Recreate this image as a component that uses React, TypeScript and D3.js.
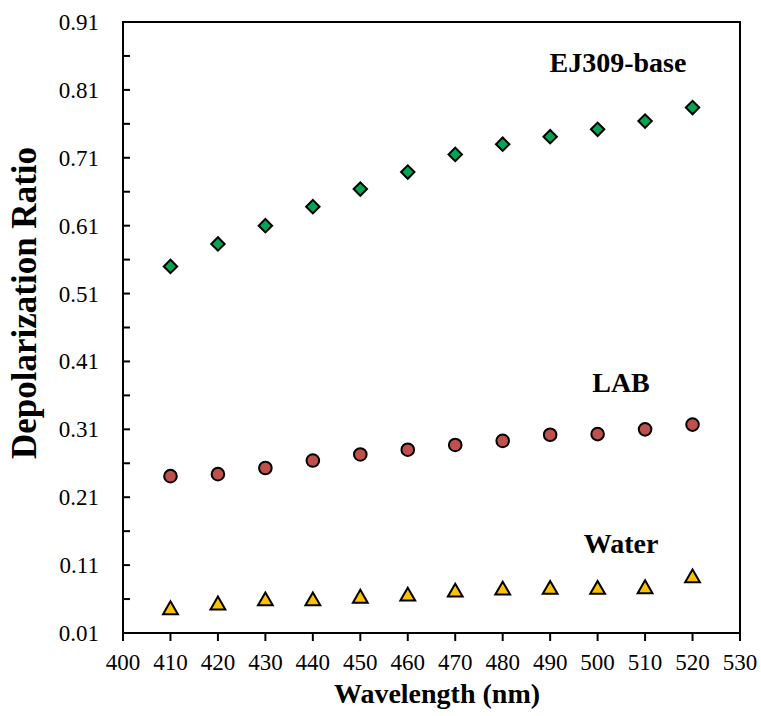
import React from "react";
import * as d3 from "d3";

const wavelengths = [410, 420, 430, 440, 450, 460, 470, 480, 490, 500, 510, 520];
const ej309 = [0.55, 0.583, 0.61, 0.638, 0.664, 0.689, 0.715, 0.73, 0.741, 0.752, 0.764, 0.784];
const lab = [0.241, 0.244, 0.253, 0.264, 0.273, 0.28, 0.287, 0.293, 0.302, 0.303, 0.31, 0.317];
const water = [0.044, 0.051, 0.057, 0.057, 0.061, 0.064, 0.07, 0.073, 0.074, 0.074, 0.075, 0.091];
const xTicks = [400, 410, 420, 430, 440, 450, 460, 470, 480, 490, 500, 510, 520, 530];
const yTicks = [0.01, 0.11, 0.21, 0.31, 0.41, 0.51, 0.61, 0.71, 0.81, 0.91];
const yMinorTicks = [0.06, 0.16, 0.26, 0.36, 0.46, 0.56, 0.66, 0.76, 0.86];

const W = 761, H = 716;
const M = { left: 123, right: 740, top: 22, bottom: 633 };
const FONT = "'Liberation Serif', 'Times New Roman', 'DejaVu Serif', serif";
const txt = { fontFamily: FONT };

export default function App() {
  const x = d3.scaleLinear().domain([400, 530]).range([M.left, M.right]);
  const y = d3.scaleLinear().domain([0.01, 0.91]).range([M.bottom, M.top]);
  const diamond = d3.symbol().type(d3.symbolSquare).size(90)();
  const circle = d3.symbol().type(d3.symbolCircle).size(125)();
  const tri = d3.symbol().type(d3.symbolTriangle).size(95)();

  return (
    <svg width={W} height={H} style={{ position: "absolute", left: 0, top: 0, background: "#fff" }}>
      <rect x={0} y={0} width={W} height={H} fill="#fff" />
      {yTicks.concat(yMinorTicks).map((t, i) => (
        <line key={"yt" + i} x1={M.left} x2={M.left + 7} y1={y(t)} y2={y(t)} stroke="#000" strokeWidth={2} />
      ))}
      {yTicks.map((t, i) => (
        <text key={"yl" + i} x={99} y={y(t)} dy="0.35em" textAnchor="end" style={txt} fontSize={23} fill="#000">
          {d3.format(".2f")(t)}
        </text>
      ))}
      {xTicks.map((t, i) => (
        <g key={"xt" + i}>
          <line x1={x(t)} x2={x(t)} y1={M.bottom} y2={M.bottom + 8} stroke="#000" strokeWidth={2} />
          <text x={x(t)} y={670} textAnchor="middle" style={txt} fontSize={23} fill="#000">
            {t}
          </text>
        </g>
      ))}
      <rect x={M.left} y={M.top} width={M.right - M.left} height={M.bottom - M.top} fill="none" stroke="#000" strokeWidth={2} />
      {wavelengths.map((w, i) => (
        <path key={"e" + i} d={diamond} transform={`translate(${x(w)},${y(ej309[i])}) rotate(45)`} fill="#00a651" stroke="#000" strokeWidth={2} />
      ))}
      {wavelengths.map((w, i) => (
        <path key={"l" + i} d={circle} transform={`translate(${x(w)},${y(lab[i])})`} fill="#c0504d" stroke="#000" strokeWidth={2} />
      ))}
      {wavelengths.map((w, i) => (
        <path key={"w" + i} d={tri} transform={`translate(${x(w)},${y(water[i])})`} fill="#ffc000" stroke="#000" strokeWidth={2} />
      ))}
      <text x={618} y={72} textAnchor="middle" style={txt} fontWeight="bold" fontSize={28} fill="#000">EJ309-base</text>
      <text x={621} y={392} textAnchor="middle" style={txt} fontWeight="bold" fontSize={28} fill="#000">LAB</text>
      <text x={621} y={553} textAnchor="middle" style={txt} fontWeight="bold" fontSize={28} fill="#000">Water</text>
      <text x={437} y={703} textAnchor="middle" style={txt} fontWeight="bold" fontSize={28} fill="#000">Wavelength (nm)</text>
      <text transform={`translate(36,303) rotate(-90)`} textAnchor="middle" style={txt} fontWeight="bold" fontSize={35} fill="#000">Depolarization Ratio</text>
    </svg>
  );
}
